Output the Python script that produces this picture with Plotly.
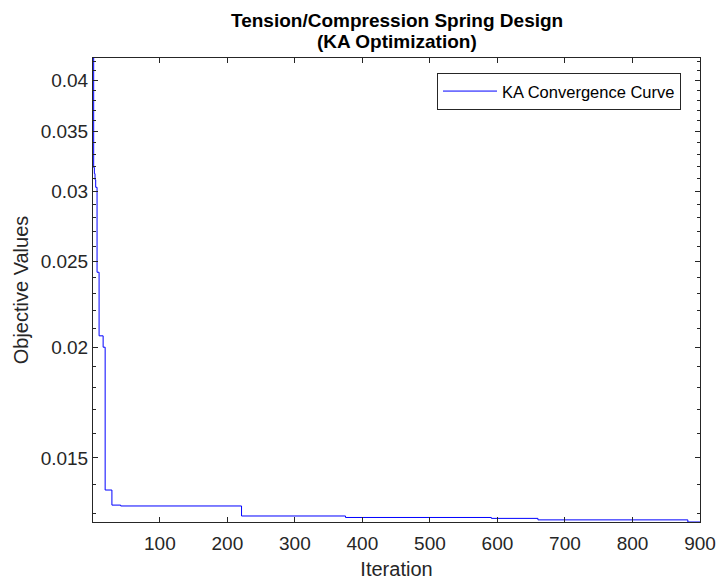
import math
import plotly.graph_objects as go

# Step-wise best-so-far values (change points), drawn with 'hv' steps
iterations = [1, 2, 3, 4, 5, 7, 10, 16, 19, 29, 42, 221, 375, 591, 660, 882, 900]
best_values = [0.0424, 0.0319, 0.0314, 0.0309, 0.0303, 0.0243, 0.0206, 0.0200,
               0.0138, 0.01327, 0.01324, 0.01290, 0.01285, 0.01282, 0.01277,
               0.01270, 0.01270]

x_ticks = [100, 200, 300, 400, 500, 600, 700, 800, 900]
y_ticks = [0.015, 0.02, 0.025, 0.03, 0.035, 0.04]
y_tick_labels = ["0.015", "0.02", "0.025", "0.03", "0.035", "0.04"]
y_minor = [0.013, 0.014, 0.016, 0.017, 0.018, 0.019, 0.021, 0.022, 0.023, 0.024,
           0.026, 0.027, 0.028, 0.029, 0.031, 0.032, 0.033, 0.034, 0.036, 0.037,
           0.038, 0.039, 0.041, 0.042]

title_lines = ["Tension/Compression Spring Design", "(KA Optimization)"]

axcol = "#262626"
font_family = "Liberation Sans, Arial, sans-serif"

fig = go.Figure()
fig.add_trace(go.Scatter(
    x=iterations, y=best_values, mode="lines", line_shape="hv",
    line=dict(color="#0000FF", width=1), name="KA Convergence Curve"))

fig.update_layout(
    width=717, height=583,
    margin=dict(l=93, r=17, t=58, b=61, autoexpand=False),
    paper_bgcolor="white", plot_bgcolor="white",
    font=dict(family=font_family, size=19, color=axcol),
    showlegend=True,
    legend=dict(x=0.9687, xanchor="right", y=0.968, yanchor="top",
                bgcolor="white", bordercolor=axcol, borderwidth=1,
                font=dict(family=font_family, size=16.5, color="black"),
                itemwidth=54, tracegroupgap=0),
)

# two-line bold title
for txt, yp in zip(title_lines, [1.0808, 1.0356]):
    fig.add_annotation(text="<b>" + txt + "</b>", xref="paper", yref="paper",
                       x=0.5, y=yp, xanchor="center", yanchor="middle",
                       showarrow=False,
                       font=dict(family=font_family, size=19, color="black"))

fig.update_xaxes(
    range=[1, 900], tickvals=x_ticks, ticks="inside", ticklen=5,
    tickcolor=axcol, showline=True, linecolor=axcol, linewidth=1,
    mirror="allticks", showgrid=False, zeroline=False, automargin=False,
    ticklabelstandoff=4,
    title=dict(text="Iteration", standoff=9, font=dict(size=20)),
)
fig.update_yaxes(
    type="log",
    range=[math.log10(min(best_values)), math.log10(max(best_values))],
    tickvals=y_ticks, ticktext=y_tick_labels, ticks="inside", ticklen=5,
    tickcolor=axcol, showline=True, linecolor=axcol, linewidth=1,
    mirror="allticks", showgrid=False, zeroline=False, automargin=False,
    minor=dict(tickmode="array", tickvals=y_minor, ticks="inside", ticklen=3,
               tickcolor=axcol, showgrid=False),
    title=dict(text="Objective Values", standoff=6, font=dict(size=20)),
)

fig.write_html("out.html", config={"displayModeBar": False},
               post_script="document.body.style.margin='0';")
